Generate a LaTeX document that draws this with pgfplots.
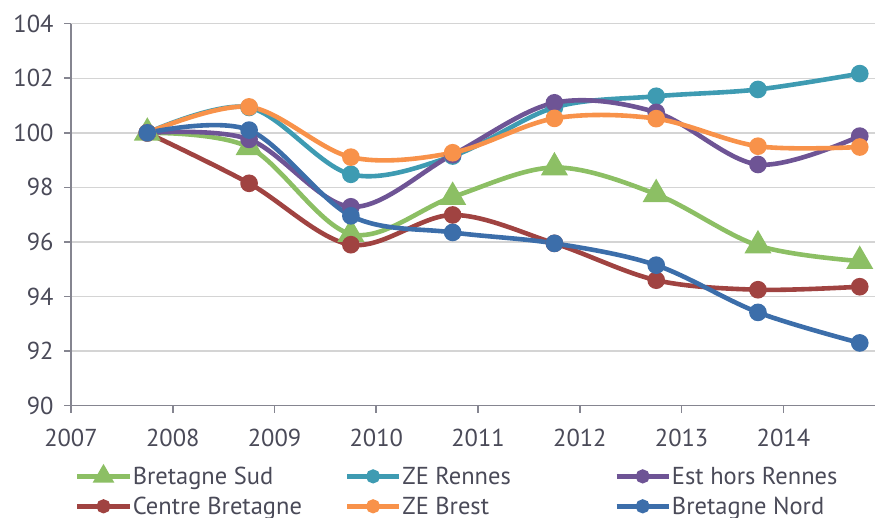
\documentclass[border=0pt]{standalone}
\usepackage{pgfplots}
\pgfplotsset{compat=1.18}
\usepackage{fontspec}
\setmainfont{PT Sans}

\definecolor{cgreen}{HTML}{8CBF64}
\definecolor{cteal}{HTML}{3E9BB2}
\definecolor{cpurple}{HTML}{6E5495}
\definecolor{cred}{HTML}{A04341}
\definecolor{corange}{HTML}{F8924A}
\definecolor{cblue}{HTML}{3C6EAA}
\definecolor{axisgray}{HTML}{858590}
\definecolor{gridgray}{HTML}{D4D4D4}
\definecolor{txt}{HTML}{4A4A58}

\newcommand{\bigfont}{\fontsize{24.5}{28}\selectfont}

\begin{document}
\begin{tikzpicture}
\begin{axis}[
    at={(0,0)}, anchor=south west,
    scale only axis,
    width=804pt, height=382pt,
    xmin=2007, xmax=2014.9,
    ymin=90, ymax=104,
    xtick={2007,2008,...,2014},
    ytick={90,92,...,104},
    axis x line=bottom, axis y line=left,
    axis line style={-, draw=axisgray, line width=1.6pt},
    tick align=outside,
    major tick length=7pt,
    tick style={draw=axisgray, line width=1.6pt},
    ymajorgrids,
    grid style={draw=gridgray, line width=1.4pt},
    /pgf/number format/assume math mode=true,
    /pgf/number format/1000 sep={},
    ticklabel style={font=\bigfont, text=txt},
    yticklabel style={xshift=-7pt},
    xticklabel style={yshift=-13pt},
    every axis plot/.append style={line width=4.6pt, smooth, tension=0.55},
    legend image code/.code={\draw[mark repeat=2, mark phase=2, #1,
        every mark/.append style={scale=0.72}]
        plot coordinates {(0pt,0pt) (26pt,0pt) (52pt,0pt)};},
    legend columns=3,
    legend style={at={(0,0)}, anchor=north west, xshift=1pt, yshift=-58pt,
        draw=none, fill=none, row sep=9pt,
        nodes={inner sep=1pt, font=\bigfont, text=txt}},
]
% Bretagne Sud
\addplot[color=cgreen, mark=triangle*, mark size=11pt, mark options={draw=none, fill=cgreen}]
  coordinates {(2007.75,100) (2008.75,99.47) (2009.75,96.29) (2010.75,97.65) (2011.75,98.73) (2012.75,97.75) (2013.75,95.87) (2014.75,95.3)};
% ZE Rennes
\addplot[color=cteal, mark=*, mark size=6.5pt, mark options={draw=none, fill=cteal}]
  coordinates {(2007.75,100) (2008.75,100.93) (2009.75,98.48) (2010.75,99.15) (2011.75,100.93) (2012.75,101.34) (2013.75,101.59) (2014.75,102.17)};
% Est hors Rennes
\addplot[color=cpurple, mark=*, mark size=6.5pt, mark options={draw=none, fill=cpurple}]
  coordinates {(2007.75,100) (2008.75,99.76) (2009.75,97.29) (2010.75,99.2) (2011.75,101.1) (2012.75,100.75) (2013.75,98.84) (2014.75,99.88)};
% Centre Bretagne
\addplot[color=cred, mark=*, mark size=6.5pt, mark options={draw=none, fill=cred}]
  coordinates {(2007.75,100) (2008.75,98.15) (2009.75,95.9) (2010.75,96.99) (2011.75,95.95) (2012.75,94.6) (2013.75,94.25) (2014.75,94.36)};
% ZE Brest
\addplot[color=corange, mark=*, mark size=6.5pt, mark options={draw=none, fill=corange}]
  coordinates {(2007.75,100) (2008.75,100.95) (2009.75,99.11) (2010.75,99.27) (2011.75,100.53) (2012.75,100.52) (2013.75,99.51) (2014.75,99.48)};
% Bretagne Nord
\addplot[color=cblue, mark=*, mark size=6.5pt, mark options={draw=none, fill=cblue}]
  coordinates {(2007.75,100) (2008.75,100.1) (2009.75,96.96) (2010.75,96.35) (2011.75,95.95) (2012.75,95.15) (2013.75,93.42) (2014.75,92.3)};
\legend{\makebox[211pt][l]{Bretagne Sud}, \makebox[211pt][l]{ZE Rennes}, \makebox[211pt][l]{Est hors Rennes},
        \makebox[211pt][l]{Centre Bretagne}, \makebox[211pt][l]{ZE Brest}, \makebox[211pt][l]{Bretagne Nord}}
\end{axis}
\pgfresetboundingbox
\path[use as bounding box] (-71pt,-112.3pt) rectangle (804pt,405.7pt);
\end{tikzpicture}
\end{document}
